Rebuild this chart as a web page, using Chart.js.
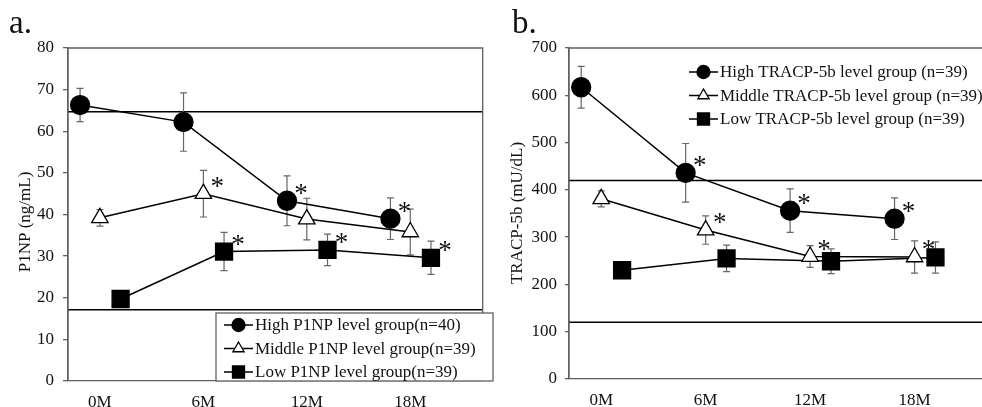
<!DOCTYPE html>
<html>
<head>
<meta charset="utf-8">
<script src="https://cdn.jsdelivr.net/npm/chart.js@4"></script>
<style>
  body { margin: 0; background: #fff; overflow: hidden; width: 982px; height: 407px; }
  canvas { position: absolute; top: 0; }
  #chartA { left: 0; }
  #chartB { left: 491px; }
</style>
</head>
<body>
<canvas id="chartA" width="496" height="407"></canvas>
<canvas id="chartB" width="510" height="407"></canvas>
<script>
// time points
var months = [0, 6, 12, 18];
var monthLabels = ['0M', '6M', '12M', '18M'];

// panel a: P1NP (ng/mL), mean and SD
var p1npHigh = [66.3, 62.2, 43.3, 39.0];
var p1npHighErr = [4.0, 7.0, 6.0, 5.0];
var p1npHighStar = [0, 0, 1, 1];
var p1npMid = [39.2, 45.0, 38.9, 35.8];
var p1npMidErr = [2.0, 5.6, 5.0, 5.5];
var p1npMidStar = [0, 1, 0, 0];
var p1npLow = [19.7, 31.1, 31.5, 29.6];
var p1npLowErr = [1.5, 4.6, 3.8, 4.0];
var p1npLowStar = [0, 1, 1, 1];
var p1npRef = [64.7, 17.1];
var p1npNames = ['High P1NP level group(n=40)', 'Middle P1NP level group(n=39)', 'Low P1NP level group(n=39)'];

// panel b: TRACP-5b (mU/dL)
var tracpHigh = [617, 436, 356, 339];
var tracpHighErr = [44, 62, 46, 44];
var tracpHighStar = [0, 1, 1, 1];
var tracpMid = [381, 315, 259, 258];
var tracpMidErr = [17, 30, 23, 34];
var tracpMidStar = [0, 1, 1, 1];
var tracpLow = [230, 255, 249, 257];
var tracpLowErr = [16, 28, 26, 33];
var tracpLowStar = [0, 0, 0, 0];
var tracpRef = [420, 120];
var tracpNames = ['High TRACP-5b level group (n=39)', 'Middle TRACP-5b level group (n=39)', 'Low TRACP-5b level group (n=39)'];

var FONT = 'Liberation Serif, Times New Roman, serif';
var AXIS_GRAY = '#606060';
var shifts = [-1.15, 0, 1.2];   // horizontal jitter of the three groups

function series(values, shift) {
    return months.map(function(m, i) { return { x: m + shift, y: values[i] }; });
}

function makeDataset(label, values, err, stars, shift, style) {
    var filled = style !== 'triangle';
    return {
        label: label,
        data: series(values, shift),
        err: err,
        stars: stars,
        borderColor: '#000',
        borderWidth: 1.5,
        pointStyle: style,
        pointRadius: style === 'rect' ? 12 : 9.5,
        pointBackgroundColor: filled ? '#000' : '#fff',
        pointBorderColor: '#000',
        pointBorderWidth: 1.3,
        tension: 0,
        fill: false
    };
}

// error bars + reference lines + box, under the markers
var underPlugin = {
    id: 'under',
    beforeDatasetsDraw: function(chart) {
        var ctx = chart.ctx, a = chart.chartArea;
        var xs = chart.scales.x, ys = chart.scales.y;
        var o = chart.options.extra;
        ctx.save();
        ctx.strokeStyle = '#000';
        ctx.lineWidth = 1.5;
        o.refLines.forEach(function(v) {
            var y = ys.getPixelForValue(v);
            ctx.beginPath();
            ctx.moveTo(a.left, y);
            ctx.lineTo(a.right, y);
            ctx.stroke();
        });
        ctx.strokeStyle = '#666';
        ctx.lineWidth = 1.2;
        chart.data.datasets.forEach(function(ds) {
            ds.data.forEach(function(p, i) {
                var x = xs.getPixelForValue(p.x);
                var y1 = ys.getPixelForValue(p.y + ds.err[i]);
                var y2 = ys.getPixelForValue(p.y - ds.err[i]);
                ctx.beginPath();
                ctx.moveTo(x, y1); ctx.lineTo(x, y2);
                ctx.moveTo(x - 3.5, y1); ctx.lineTo(x + 3.5, y1);
                ctx.moveTo(x - 3.5, y2); ctx.lineTo(x + 3.5, y2);
                ctx.stroke();
            });
        });
        ctx.strokeStyle = AXIS_GRAY;
        ctx.lineWidth = 1.3;
        ctx.beginPath();
        ctx.moveTo(a.left, a.bottom);
        ctx.lineTo(a.left, a.top);
        ctx.lineTo(a.right, a.top);
        ctx.lineTo(a.right, a.bottom);
        ctx.stroke();
        ctx.restore();
    }
};

// asterisks, legend, axis title, panel letter
var overPlugin = {
    id: 'over',
    afterDatasetsDraw: function(chart) {
        var ctx = chart.ctx, a = chart.chartArea;
        var xs = chart.scales.x, ys = chart.scales.y;
        var o = chart.options.extra;
        ctx.save();
        ctx.fillStyle = '#111';
        ctx.font = '27px ' + FONT;
        ctx.textAlign = 'center';
        ctx.textBaseline = 'middle';
        chart.data.datasets.forEach(function(ds) {
            ds.data.forEach(function(p, i) {
                if (!ds.stars[i]) return;
                ctx.fillText('*', xs.getPixelForValue(p.x) + 14, ys.getPixelForValue(p.y) - 6);
            });
        });

        var lg = o.legend;
        if (lg.box) {
            ctx.fillStyle = '#fff';
            ctx.fillRect(lg.box[0], lg.box[1], lg.box[2], lg.box[3]);
            ctx.strokeStyle = AXIS_GRAY;
            ctx.lineWidth = 1.3;
            ctx.strokeRect(lg.box[0], lg.box[1], lg.box[2], lg.box[3]);
        }
        chart.data.datasets.forEach(function(ds, i) {
            var y = lg.y + i * lg.step;
            ctx.strokeStyle = '#000';
            ctx.lineWidth = 1.5;
            ctx.beginPath();
            ctx.moveTo(lg.x, y); ctx.lineTo(lg.x + 29, y);
            ctx.stroke();
            ctx.fillStyle = ds.pointBackgroundColor;
            ctx.lineWidth = 1.3;
            Chart.helpers.drawPoint(ctx, {
                pointStyle: ds.pointStyle,
                rotation: 0,
                radius: ds.pointStyle === 'rect' ? 8.5 : 6.5,
                borderWidth: 1.3
            }, lg.x + 14.5, y);
            ctx.fillStyle = '#111';
            ctx.font = '17px ' + FONT;
            ctx.textAlign = 'left';
            ctx.textBaseline = 'middle';
            ctx.fillText(ds.label, lg.x + 31, y + 1);
        });

        ctx.fillStyle = '#111';
        ctx.font = '17px ' + FONT;
        ctx.textAlign = 'center';
        ctx.textBaseline = 'middle';
        ctx.translate(o.titleX, o.titleY);
        ctx.rotate(-Math.PI / 2);
        ctx.fillText(o.title, 0, 0);
        ctx.setTransform(1, 0, 0, 1, 0, 0);

        ctx.font = '33px ' + FONT;
        ctx.textAlign = 'left';
        ctx.textBaseline = 'alphabetic';
        ctx.fillText(o.letter, o.letterX, 33);
        ctx.restore();
    }
};

function makeChart(id, p) {
    new Chart(document.getElementById(id), {
        type: 'line',
        data: {
            datasets: [
                makeDataset(p.names[0], p.high, p.highErr, p.highStar, shifts[0], 'circle'),
                makeDataset(p.names[1], p.mid, p.midErr, p.midStar, shifts[1], 'triangle'),
                makeDataset(p.names[2], p.low, p.lowErr, p.lowStar, shifts[2], 'rect')
            ]
        },
        options: {
            responsive: false,
            animation: false,
            layout: { padding: { top: 48, right: p.padRight, left: 0, bottom: 0 } },
            plugins: { legend: { display: false }, tooltip: { enabled: false } },
            extra: p.extra,
            scales: {
                x: {
                    type: 'linear',
                    min: -1.85,
                    max: 22.2,
                    afterBuildTicks: function(s) { s.ticks = months.map(function(v) { return { value: v }; }); },
                    afterFit: function(s) { s.height = p.xHeight; },
                    ticks: {
                        callback: function(v, i) { return monthLabels[i]; },
                        font: { family: FONT, size: 17 },
                        color: '#111',
                        padding: 11,
                        maxRotation: 0,
                        autoSkip: false
                    },
                    grid: { drawOnChartArea: false, drawTicks: false },
                    border: { color: AXIS_GRAY, width: 1.3 }
                },
                y: {
                    min: 0,
                    max: p.yMax,
                    afterFit: function(s) { s.width = p.yWidth; },
                    ticks: {
                        stepSize: p.yStep,
                        font: { family: FONT, size: 17 },
                        color: '#111',
                        padding: p.yPad
                    },
                    grid: { drawOnChartArea: false, tickLength: p.tickLen, color: AXIS_GRAY, lineWidth: 1.3 },
                    border: { color: AXIS_GRAY, width: 1.3 }
                }
            }
        },
        plugins: [underPlugin, overPlugin]
    });
}

makeChart('chartA', {
    names: p1npNames,
    high: p1npHigh, highErr: p1npHighErr, highStar: p1npHighStar,
    mid: p1npMid, midErr: p1npMidErr, midStar: p1npMidStar,
    low: p1npLow, lowErr: p1npLowErr, lowStar: p1npLowStar,
    yMax: 80, yStep: 10, yWidth: 68, yPad: 9, tickLen: 5, xHeight: 26, padRight: 3,
    extra: {
        refLines: p1npRef,
        legend: { x: 224, y: 325, step: 23.5, box: [216, 313, 277, 68] },
        title: 'P1NP (ng/mL)', titleX: 26, titleY: 222,
        letter: 'a.', letterX: 9
    }
});

makeChart('chartB', {
    names: tracpNames,
    high: tracpHigh, highErr: tracpHighErr, highStar: tracpHighStar,
    mid: tracpMid, midErr: tracpMidErr, midStar: tracpMidStar,
    low: tracpLow, lowErr: tracpLowErr, lowStar: tracpLowStar,
    yMax: 700, yStep: 100, yWidth: 78, yPad: 8, tickLen: 4, xHeight: 28, padRight: 9,
    extra: {
        refLines: tracpRef,
        legend: { x: 198, y: 72, step: 23.5, box: null },
        title: 'TRACP-5b (mU/dL)', titleX: 27, titleY: 213,
        letter: 'b.', letterX: 21
    }
});
</script>
</body>
</html>
